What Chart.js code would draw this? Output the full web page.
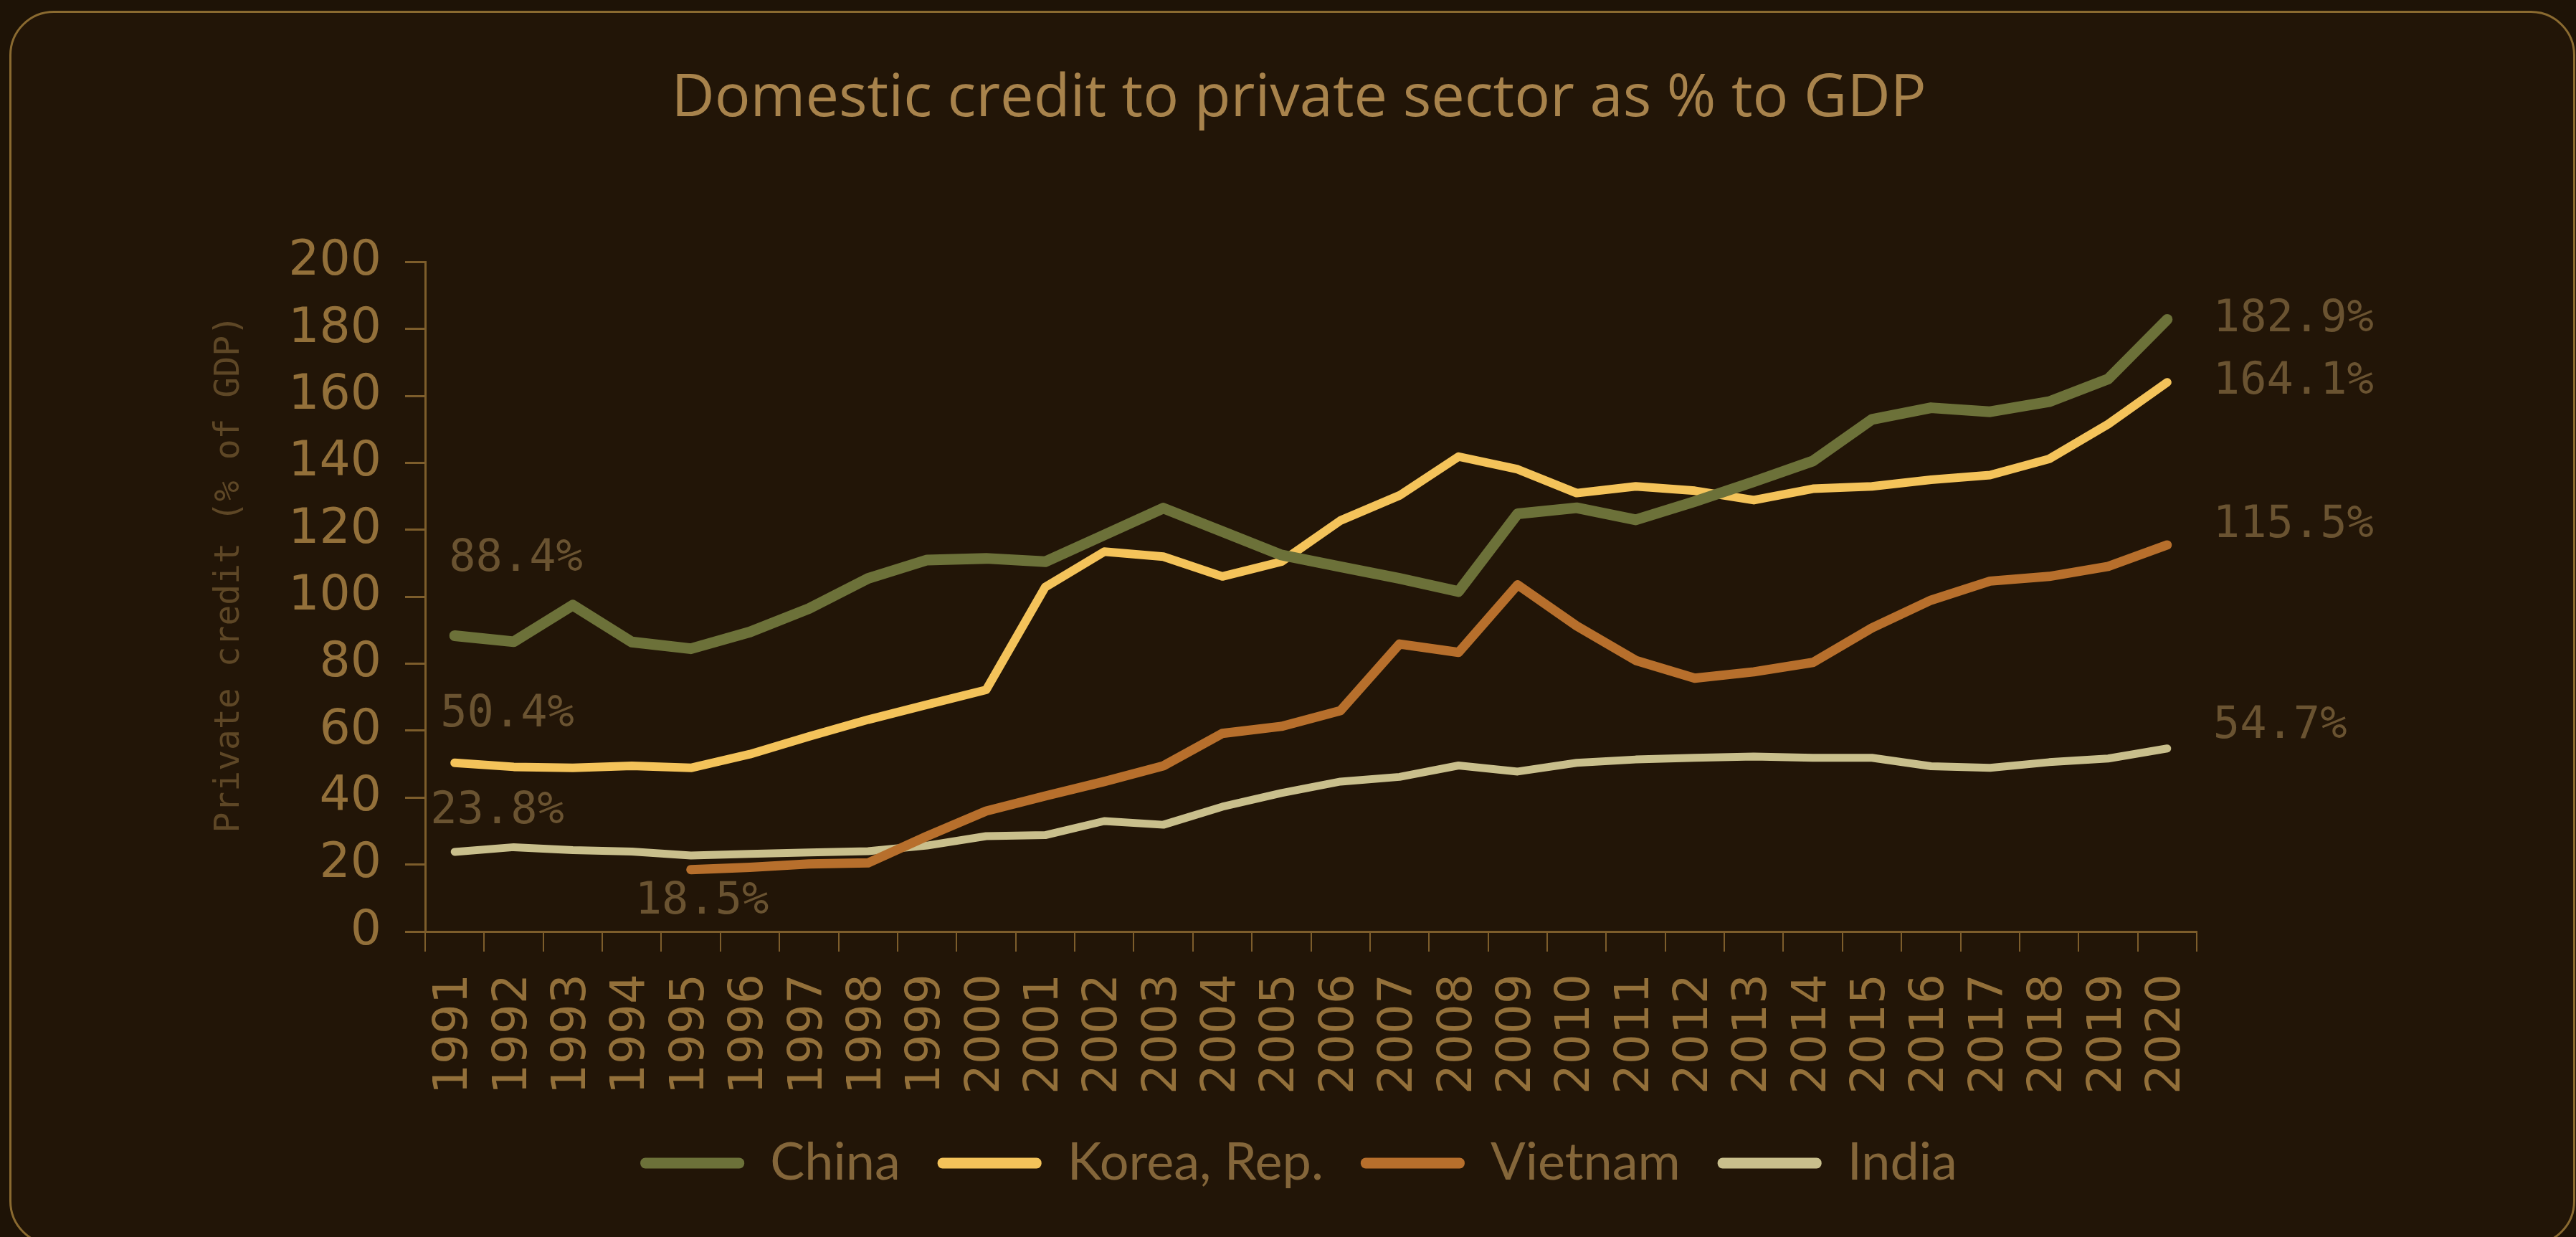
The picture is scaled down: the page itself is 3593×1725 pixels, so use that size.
<!DOCTYPE html>
<html>
<head>
<meta charset="utf-8">
<script src="https://cdn.jsdelivr.net/npm/chart.js@4.4.1/dist/chart.umd.min.js"></script>
<style>
  html, body { margin: 0; padding: 0; background: #1e1306; }
  #wrap { position: relative; width: 3593px; height: 1725px; overflow: hidden; background: #1e1306; }
  #frame { position: absolute; left: 13px; top: 15px; width: 3579px; height: 1722px; box-sizing: border-box;
           border: 3px solid #8a6a30; border-radius: 62px; background: #221507; }
  canvas { position: absolute; left: 0; top: 0; }
</style>
</head>
<body>
<div id="wrap">
  <div id="frame"></div>
  <canvas id="c" width="3593" height="1725"></canvas>
</div>
<script>
// ---------- data ----------
const chartTitle = 'Domestic credit to private sector as % to GDP';
const yAxisTitle = 'Private credit (% of GDP)';
const years = ['1991','1992','1993','1994','1995','1996','1997','1998','1999','2000',
               '2001','2002','2003','2004','2005','2006','2007','2008','2009','2010',
               '2011','2012','2013','2014','2015','2016','2017','2018','2019','2020'];
const seriesNames = ['China', 'Korea, Rep.', 'Vietnam', 'India'];
const china   = [88.4, 86.6, 97.5, 86.5, 84.5, 89.5, 96.5, 105.5, 111.0, 111.5,
                 110.5, 118.5, 126.5, 119.5, 112.5, 109.0, 105.5, 101.6, 124.8, 126.6,
                 123.0, 128.5, 134.4, 140.6, 153.0, 156.5, 155.3, 158.3, 165.1, 182.9];
const korea   = [50.4, 49.2, 48.9, 49.5, 48.9, 53.0, 58.3, 63.3, 67.8, 72.2,
                 102.9, 113.5, 112.0, 106.1, 110.5, 122.8, 130.3, 141.9, 138.1, 131.0,
                 133.0, 131.7, 128.9, 132.3, 133.0, 135.0, 136.4, 141.2, 151.6, 164.1];
const vietnam = [null, null, null, null, 18.5, 19.2, 20.2, 20.5, 28.5, 36.0,
                 40.5, 44.8, 49.5, 59.2, 61.3, 66.0, 85.9, 83.4, 103.6, 91.3,
                 81.0, 75.7, 77.6, 80.4, 90.7, 99.0, 104.7, 106.1, 109.1, 115.5];
const india   = [23.8, 25.2, 24.3, 23.9, 22.7, 23.2, 23.6, 24.0, 25.7, 28.5,
                 28.8, 33.0, 31.9, 37.3, 41.4, 44.8, 46.2, 49.6, 47.8, 50.4,
                 51.4, 51.9, 52.3, 51.9, 51.9, 49.4, 48.9, 50.6, 51.7, 54.7];
const yMin = 0, yMax = 200, yStep = 20;

// ---------- styles ----------
const lineColors = ['#6c7139', '#f4c35a', '#b76f2c', '#c9bf8c'];
const lineWidths = [15, 12, 13, 11];
const labelOffsets = [ // start label dx/dy, end label dx/dy (pixels from the point)
  { sx: -8,  sy: -107, ex: 64, ey: 0 },
  { sx: -20, sy: -67,  ex: 64, ey: 0 },
  { sx: -78, sy: 45,   ex: 64, ey: -27 },
  { sx: -34, sy: -56,  ex: 64, ey: -31 }
];
const axisColor = '#7d5d2b';
const tickColor = '#93703a';
const dimText = '#6a5331';

const seriesData = [china, korea, vietnam, india];

const valueLabels = {
  id: 'valueLabels',
  afterDatasetsDraw(chart) {
    const ctx = chart.ctx;
    ctx.save();
    ctx.font = '62px "DejaVu Sans Mono"';
    ctx.fillStyle = dimText;
    ctx.textBaseline = 'middle';
    ctx.textAlign = 'left';
    chart.data.datasets.forEach((ds, di) => {
      const meta = chart.getDatasetMeta(di);
      const first = ds.data.findIndex(v => v !== null);
      const last = ds.data.length - 1;
      const o = labelOffsets[di];
      const p0 = meta.data[first], p1 = meta.data[last];
      ctx.fillText(ds.data[first].toFixed(1) + '%', p0.x + o.sx, p0.y + o.sy);
      ctx.fillText(ds.data[last].toFixed(1) + '%', p1.x + o.ex, p1.y + o.ey);
    });
    // y axis title
    const ca = chart.chartArea;
    ctx.translate(ca.left - 272, (ca.top + ca.bottom) / 2 - 32);
    ctx.rotate(-Math.PI / 2);
    ctx.textAlign = 'center';
    ctx.font = '48px "DejaVu Sans Mono"';
    ctx.fillStyle = '#5e4726';
    ctx.fillText(yAxisTitle, 0, 0);
    ctx.restore();
  }
};

new Chart(document.getElementById('c'), {
  type: 'line',
  data: {
    labels: years,
    datasets: seriesNames.map((name, i) => ({
      label: name,
      data: seriesData[i],
      borderColor: lineColors[i],
      backgroundColor: lineColors[i],
      borderWidth: lineWidths[i],
      pointRadius: 0,
      pointHoverRadius: 0,
      tension: 0,
      borderJoinStyle: 'round',
      borderCapStyle: 'round',
      spanGaps: false,
      fill: false
    }))
  },
  options: {
    responsive: false,
    animation: false,
    devicePixelRatio: 1,
    layout: { padding: { left: 50, right: 20, top: 20, bottom: 57 } },
    plugins: {
      tooltip: { enabled: false },
      title: {
        display: true,
        text: chartTitle,
        color: '#a8834c',
        font: { family: '"Open Sans"', size: 83, weight: 'normal' },
        padding: { top: 69, bottom: 177 }
      },
      legend: {
        position: 'bottom',
        labels: {
          color: '#84663a',
          font: { family: 'Lato', size: 72 },
          boxWidth: 145,
          boxHeight: 15,
          padding: 52,
          useBorderRadius: true,
          borderRadius: 7,
          generateLabels(chart) {
            return chart.data.datasets.map((ds, i) => ({
              text: ds.label,
              fillStyle: ds.borderColor,
              strokeStyle: ds.borderColor,
              lineWidth: 0,
              fontColor: '#84663a',
              hidden: false,
              datasetIndex: i,
              borderRadius: 7
            }));
          }
        }
      }
    },
    scales: {
      x: {
        type: 'category',
        offset: true,
        grid: { offset: true, drawOnChartArea: false, drawTicks: true, tickLength: 28, color: axisColor, lineWidth: 2 },
        border: { display: true, color: axisColor, width: 3 },
        ticks: {
          color: tickColor,
          font: { family: 'DejaVu Sans', size: 66 },
          minRotation: 90, maxRotation: 90,
          autoSkip: false,
          padding: 31
        },
        afterFit(scale) { scale.height = 235; }
      },
      y: {
        type: 'linear',
        min: yMin, max: yMax,
        grid: { drawOnChartArea: false, drawTicks: true, tickLength: 28, color: axisColor, lineWidth: 3 },
        border: { display: true, color: axisColor, width: 3 },
        ticks: {
          stepSize: yStep,
          color: tickColor,
          font: { family: 'DejaVu Sans', size: 68 },
          padding: 33
        },
        afterFit(scale) { scale.width = 543; }
      },
      spare: {
        type: 'linear',
        position: 'right',
        display: true,
        grid: { display: false, drawTicks: false },
        border: { display: false },
        ticks: { display: false },
        afterFit(scale) { scale.width = 509; }
      }
    }
  },
  plugins: [valueLabels]
});
</script>
</body>
</html>
